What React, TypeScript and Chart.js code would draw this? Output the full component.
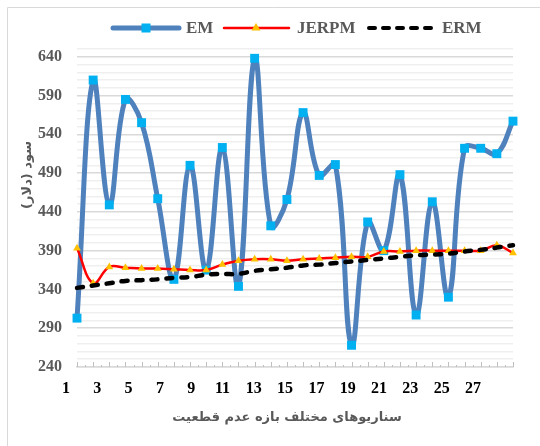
import React, { useEffect, useRef } from 'react';
import { Chart, registerables } from 'chart.js';

Chart.register(...registerables);

const scenarios = ['1','2','3','4','5','6','7','8','9','10','11','12','13','14','15','16','17','18','19','20','21','22','23','24','25','26','27','28'];
const xTickLabels = [1, 3, 5, 7, 9, 11, 13, 15, 17, 19, 21, 23, 25, 27];
const emValues = [303, 610, 449, 585, 555, 457, 353, 500, 365, 523, 344, 638, 422, 456, 568, 487, 501, 268, 427, 390, 488, 307, 453, 330, 522, 522, 515, 557];
const jerpmValues = [393, 348, 369, 368, 367, 367, 366, 365, 365, 372, 377, 379, 379, 377, 379, 380, 381, 382, 382, 389, 389, 390, 390, 390, 390, 390, 397, 387];
const ermValues = [342, 345, 348, 351, 352, 353, 355, 356, 359, 360, 360, 364, 366, 368, 371, 372, 374, 376, 378, 380, 382, 384, 385, 386, 389, 391, 394, 397];
const yTitle = 'سود (دلار)';
const xTitle = 'سناریوهای مختلف بازه عدم قطعیت';
const seriesNames = ['EM', 'JERPM', 'ERM'];

const SERIF = '"Times New Roman", "Liberation Serif", "DejaVu Sans", serif';
const ARABIC = '"DejaVu Sans", sans-serif';
const GRAY = '#595959';

const decorPlugin = {
  id: 'decor',
  afterDraw(chart: any) {
    const ctx = chart.ctx as CanvasRenderingContext2D;
    const area = chart.chartArea;
    const xs = chart.scales.x;
    ctx.save();
    // frame
    ctx.strokeStyle = '#d9d9d9';
    ctx.lineWidth = 1;
    ctx.beginPath();
    ctx.moveTo(7.5, 446);
    ctx.lineTo(7.5, 7.5);
    ctx.lineTo(540, 7.5);
    ctx.stroke();
    // small tick marks on the category axis
    ctx.strokeStyle = '#bfbfbf';
    ctx.beginPath();
    for (let i = 0; i < scenarios.length; i++) {
      const px = Math.round(xs.getPixelForValue(i)) + 0.5;
      ctx.moveTo(px, area.bottom);
      ctx.lineTo(px, area.bottom - 5);
      if (i < scenarios.length - 1) {
        const mx = Math.round((xs.getPixelForValue(i) + xs.getPixelForValue(i + 1)) / 2) + 0.5;
        ctx.moveTo(mx, area.bottom);
        ctx.lineTo(mx, area.bottom - 2);
      }
    }
    ctx.stroke();

    // legend
    const ly = 28;
    ctx.lineCap = 'round';
    ctx.strokeStyle = '#4F81BD';
    ctx.lineWidth = 5;
    ctx.beginPath(); ctx.moveTo(113, ly); ctx.lineTo(179, ly); ctx.stroke();
    ctx.fillStyle = '#00B0F0';
    ctx.fillRect(146 - 4.5, ly - 4.5, 9, 9);

    ctx.strokeStyle = '#FF0000';
    ctx.lineWidth = 2.5;
    ctx.beginPath(); ctx.moveTo(224, ly); ctx.lineTo(289, ly); ctx.stroke();
    ctx.fillStyle = '#FFC000';
    ctx.beginPath();
    ctx.moveTo(256, ly - 5); ctx.lineTo(260.5, ly + 2.5); ctx.lineTo(251.5, ly + 2.5); ctx.closePath(); ctx.fill();

    ctx.strokeStyle = '#000';
    ctx.lineWidth = 4;
    ctx.setLineDash([6, 8]);
    ctx.beginPath(); ctx.moveTo(369, ly); ctx.lineTo(434, ly); ctx.stroke();
    ctx.setLineDash([]);

    ctx.fillStyle = GRAY;
    ctx.font = 'bold 17px ' + SERIF;
    ctx.textBaseline = 'middle';
    ctx.textAlign = 'left';
    ctx.fillText(seriesNames[0], 186, ly + 1);
    ctx.fillText(seriesNames[1], 297, ly + 1);
    ctx.fillText(seriesNames[2], 442, ly + 1);

    // axis titles
    ctx.font = 'bold 13px ' + ARABIC;
    ctx.textAlign = 'center';
    (ctx as any).direction = 'rtl';
    ctx.fillText(xTitle, 287, 418);
    ctx.translate(28, 175);
    ctx.rotate(-Math.PI / 2);
    ctx.fillText(yTitle, 0, 0);
    ctx.restore();
  },
};

export default function App() {
  const ref = useRef<HTMLCanvasElement>(null);
  useEffect(() => {
    const chart = new Chart(ref.current as HTMLCanvasElement, {
      type: 'line',
      data: {
        labels: scenarios,
        datasets: [
          {
            label: seriesNames[0],
            data: emValues,
            borderColor: '#4F81BD',
            borderWidth: 5,
            tension: 0.4,
            pointStyle: 'rect',
            pointRadius: 6.3,
            pointBorderWidth: 0,
            pointBackgroundColor: '#00B0F0',
            pointBorderColor: '#00B0F0',
            order: 3,
            clip: false,
          } as any,
          {
            label: seriesNames[1],
            data: jerpmValues,
            borderColor: '#FF0000',
            borderWidth: 2.5,
            tension: 0.4,
            pointStyle: 'triangle',
            pointRadius: 4.5,
            pointBorderWidth: 0,
            pointBackgroundColor: '#FFC000',
            pointBorderColor: '#FFC000',
            order: 2,
            clip: false,
          } as any,
          {
            label: seriesNames[2],
            data: ermValues,
            borderColor: '#000000',
            borderWidth: 4.5,
            borderDash: [6, 9],
            borderCapStyle: 'round',
            tension: 0.4,
            pointRadius: 0,
            order: 1,
            clip: false,
          } as any,
        ],
      },
      options: {
        responsive: false,
        animation: false,
        events: [],
        layout: { padding: { left: 0, top: 49, right: 27, bottom: 0 }, autoPadding: false },
        plugins: { legend: { display: false }, tooltip: { enabled: false }, title: { display: false } },
        scales: {
          x: {
            type: 'category',
            display: false,
            offset: false,
          },
          xl: {
            type: 'linear',
            position: 'bottom',
            min: 1.703,
            max: 29.56,
            afterBuildTicks: (scale: any) => {
              scale.ticks = xTickLabels.map((v) => ({ value: v }));
            },
            afterFit: (scale: any) => { scale.height = 79; },
            grid: { display: false, drawTicks: false },
            border: { display: true, color: '#d9d9d9', width: 1.5 },
            ticks: {
              autoSkip: false,
              maxRotation: 0,
              padding: 12,
              color: '#000000',
              font: { family: SERIF, size: 16, weight: 'bold' },
              callback: (v: any) => String(v),
            },
          } as any,
          y: {
            min: 240,
            max: 650,
            afterFit: (scale: any) => { scale.width = 77; },
            border: { display: false },
            grid: {
              drawTicks: false,
              color: (c: any) => ((c.tick.value - 240) % 50 === 0 ? '#d9d9d9' : '#efefef'),
              lineWidth: 1.5,
            },
            ticks: {
              stepSize: 10,
              autoSkip: false,
              padding: 15,
              color: GRAY,
              font: { family: SERIF, size: 16, weight: 'bold' },
              callback: (v: any) => ((v - 240) % 50 === 0 && v <= 640 ? String(v) : ''),
            },
          } as any,
        },
      },
      plugins: [decorPlugin],
    } as any);
    return () => chart.destroy();
  }, []);
  return (
    <div style={{ position: 'fixed', left: 0, top: 0, width: 540, height: 446, background: '#ffffff' }}>
      <canvas ref={ref} width={540} height={446} style={{ display: 'block' }} />
    </div>
  );
}
